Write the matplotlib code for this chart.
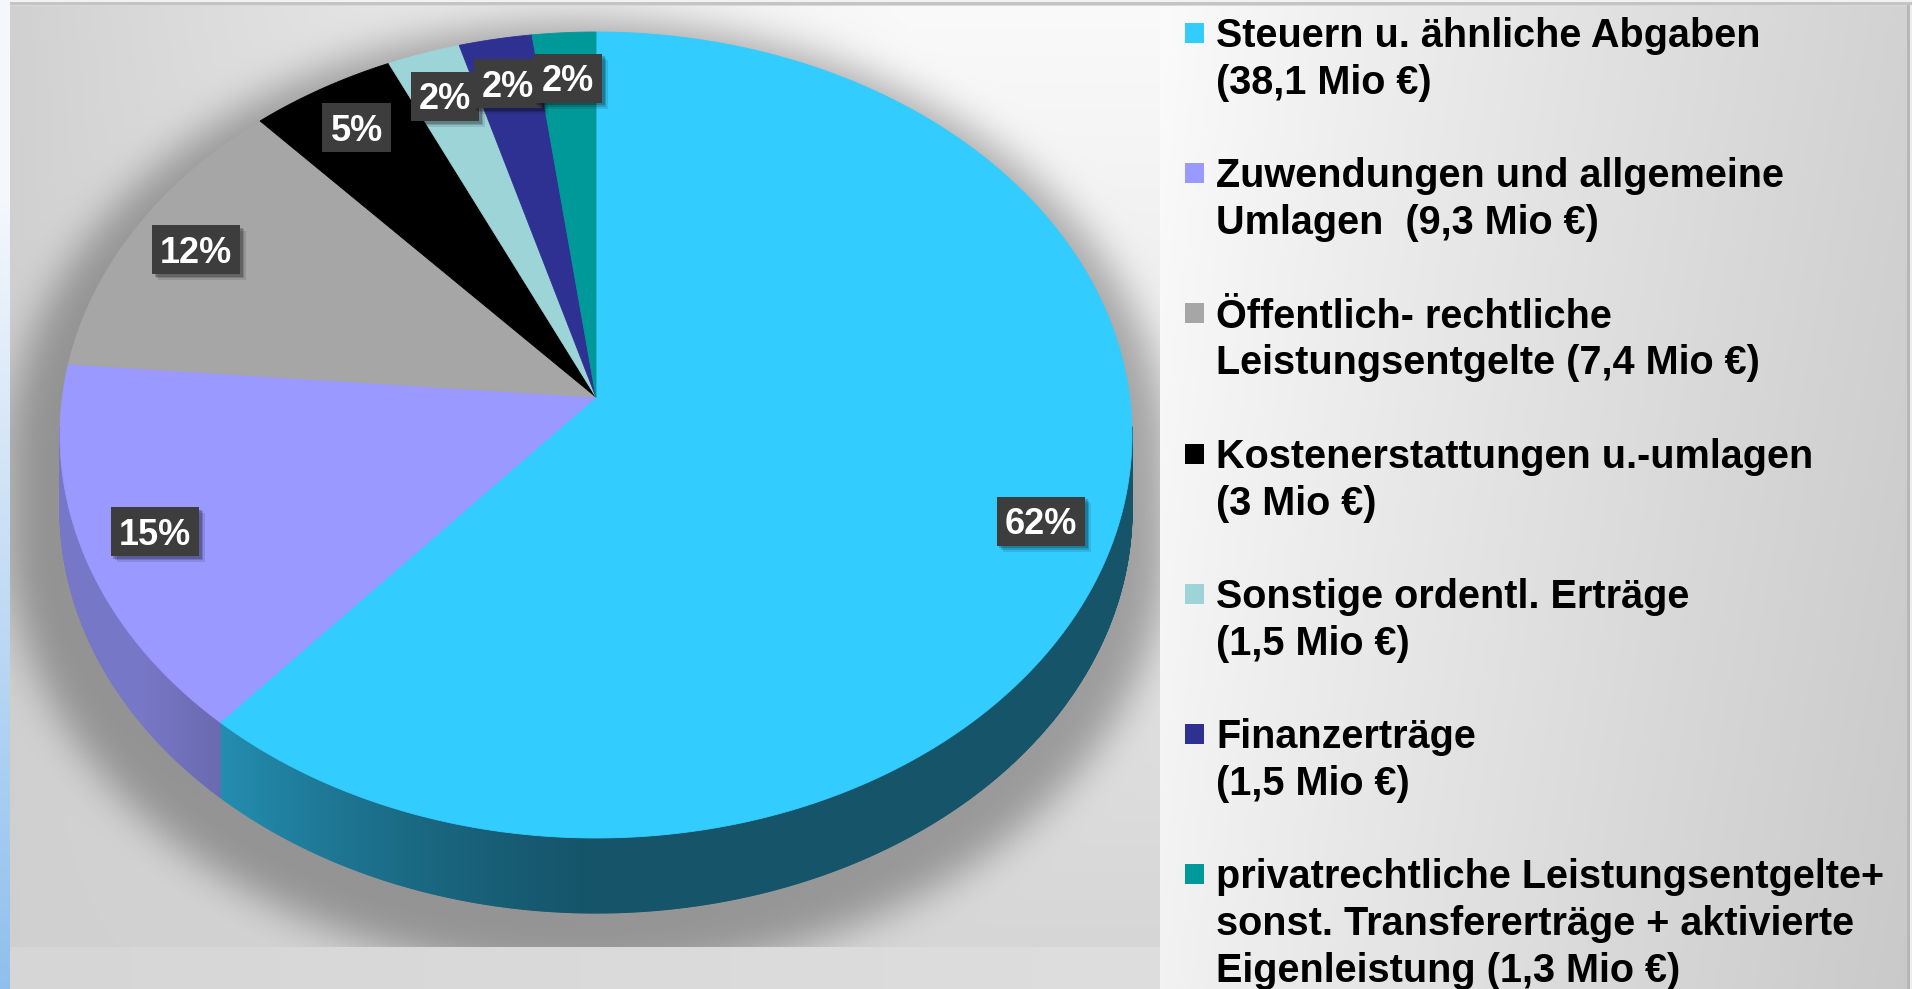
import numpy as np
import matplotlib
matplotlib.use("Agg")
import matplotlib.pyplot as plt
from matplotlib.patches import Polygon, Rectangle
from matplotlib.collections import PolyCollection

# ---------------- data ----------------
categories = [
    "Steuern u. ähnliche Abgaben\n(38,1 Mio €)",
    "Zuwendungen und allgemeine\nUmlagen  (9,3 Mio €)",
    "Öffentlich- rechtliche\nLeistungsentgelte (7,4 Mio €)",
    "Kostenerstattungen u.-umlagen\n(3 Mio €)",
    "Sonstige ordentl. Erträge\n(1,5 Mio €)",
    "Finanzerträge\n(1,5 Mio €)",
    "privatrechtliche Leistungsentgelte+\nsonst. Transfererträge + aktivierte\nEigenleistung (1,3 Mio €)",
]
values = [38.1, 9.3, 7.4, 3.0, 1.5, 1.5, 1.3]
pct_labels = ["62%", "15%", "12%", "5%", "2%", "2%", "2%"]
colors = ["#33CCFF", "#9999FF", "#A6A6A6", "#000000", "#9DD4D8", "#2E3192", "#009999"]

FONT = ["Liberation Sans", "DejaVu Sans"]

W, H = 1912, 989
fig = plt.figure(figsize=(W / 100, H / 100), dpi=100)
ax = fig.add_axes([0, 0, 1, 1])
ax.set_xlim(0, W)
ax.set_ylim(H, 0)
ax.axis("off")

# ---------------- geometry of the 3D pie ----------------
CX, CY, RX, RY, T, DEPTH = 596.0, 435.0, 536.0, 403.0, 0.094, 75.0


def proj(theta_deg, r=1.0):
    th = np.radians(theta_deg)
    x = r * np.cos(th)
    y = r * np.sin(th)
    den = 1 + T * y
    xp = x * np.sqrt(1 - T * T) / den
    yp = (y + T) / den
    return CX + RX * xp, CY - RY * yp


# ---------------- background ----------------
yy, xx = np.mgrid[0:H, 0:W].astype(float)
PX0, PX1, PY0, PY1 = 10, 1160, 6, 947

sx = np.clip((xx - PX0) / 900.0, 0, 1) ** 0.8
sy = np.clip((yy - PY0) / (PY1 - PY0), 0, 1)
plot_v = 0.815 + 0.165 * sx * (1 - 0.85 * sy)

# shadow of pie silhouette
S, OX, OY = 1.08, -8.0, 28.0
xs = CX + (xx - CX - OX) / S
ys = CY + DEPTH + (yy - CY - DEPTH - OY) / S
e_top = ((xs - CX) / RX) ** 2 + ((ys - CY) / RY) ** 2 <= 1
e_bot = ((xs - CX) / RX) ** 2 + ((ys - CY - DEPTH) / RY) ** 2 <= 1
band = (np.abs(xs - CX) <= RX) & (ys >= CY) & (ys <= CY + DEPTH)
mask = (e_top | e_bot | band).astype(float)


def box(a, r, axis):
    a = np.moveaxis(a, axis, 0)
    p = np.pad(a, ((r + 1, r), (0, 0)), mode="edge")
    c = np.cumsum(p, axis=0)
    out = (c[2 * r + 1:] - c[:-2 * r - 1]) / (2 * r + 1)
    return np.moveaxis(out, 0, axis)


sh = mask
for _ in range(3):
    sh = box(sh, 18, 0)
    sh = box(sh, 18, 1)
plot_v = plot_v * (1 - 0.30 * sh)

bg = np.full((H, W), 0.85)
in_plot = (xx >= PX0) & (xx < PX1) & (yy >= PY0) & (yy < PY1)
bg[in_plot] = plot_v[in_plot]
below = (xx >= PX0) & (xx < PX1) & (yy >= PY1)
bg[below] = (0.84 + 0.03 * np.clip((xx - PX0) / 1150, 0, 1))[below]
leg = (xx >= PX1) & (yy >= PY0)
leg_v = 0.985 - 0.16 * np.clip((xx - PX1) / 745.0, 0, 1) ** 0.9 - 0.035 * (yy / H)
bg[leg] = leg_v[leg]
bg[(xx >= 1907) & (xx < 1910)] = 0.72
bg[xx >= 1910] = 0.93
bg[yy < 2] = 0.95
bg[(yy >= 2) & (yy < 5)] = 0.77

rgb = np.stack([bg, bg, bg], axis=-1)
left = xx < PX0
tt = np.clip((yy - 200) / 789.0, 0, 1)[..., None]
lc = (1 - tt) * np.array([0.96, 0.97, 0.99]) + tt * np.array([0.56, 0.75, 0.93])
rgb[left] = lc[left]
rgb = np.clip(rgb, 0, 1)
ax.imshow(rgb, extent=(0, W, H, 0), interpolation="nearest", zorder=0)

# ---------------- pie ----------------
total = float(sum(values))
cum = np.concatenate([[0.0], np.cumsum(values)]) / total
angles = 90.0 - 360.0 * cum  # clockwise from 12 o'clock


def shade(c, X):
    f = 0.41 + 0.37 * np.clip((620.0 - X) / 480.0, 0, 1) ** 1.5
    rgb_c = np.array(matplotlib.colors.to_rgb(c))
    return tuple(np.clip(rgb_c * f, 0, 1))


# sides
quads, qcols = [], []
for k in range(len(values)):
    a0, a1 = angles[k], angles[k + 1]
    n = max(4, int(abs(a0 - a1) / 0.2))
    th = np.linspace(a0, a1, n + 1)
    X, Y = proj(th)
    for i in range(n):
        mid = 0.5 * (th[i] + th[i + 1])
        if np.sin(np.radians(mid)) < -T + 0.02:
            q = [(X[i], Y[i]), (X[i + 1], Y[i + 1]),
                 (X[i + 1], Y[i + 1] + DEPTH), (X[i], Y[i] + DEPTH)]
            quads.append(q)
            qcols.append(shade(colors[k], 0.5 * (X[i] + X[i + 1])))
pc = PolyCollection(quads, facecolors=qcols, edgecolors=qcols, linewidths=0.8, zorder=2)
ax.add_collection(pc)

# top faces
ax_x, ax_y = proj(0.0, 0.0)
for k in range(len(values)):
    a0, a1 = angles[k], angles[k + 1]
    n = max(4, int(abs(a0 - a1) / 0.3))
    th = np.linspace(a0, a1, n + 1)
    X, Y = proj(th)
    pts = np.column_stack([np.concatenate([[ax_x], X]), np.concatenate([[ax_y], Y])])
    ax.add_patch(Polygon(pts, closed=True, facecolor=colors[k], edgecolor=colors[k],
                         linewidth=0.6, zorder=3))

# ---------------- data labels ----------------
renderer = fig.canvas.get_renderer()
LFS = 26
cap = 0.716 * LFS * 100 / 72
for k in range(len(values)):
    mid = 0.5 * (angles[k] + angles[k + 1])
    lx, ly = proj(mid, 0.865)
    z = 10 + 3 * k
    t = ax.text(lx, ly + cap / 2, pct_labels[k], color="white", fontsize=LFS,
                fontweight="bold", family=FONT, ha="center", va="baseline", zorder=z + 2)
    bb = t.get_window_extent(renderer=renderer)
    bw = bb.width + 16
    bh = 49
    for j, (dx, al) in enumerate([(6, 0.10), (4, 0.15), (2.5, 0.2)]):
        ax.add_patch(Rectangle((lx - bw / 2 + dx, ly - bh / 2 + dx), bw, bh,
                               facecolor="black", alpha=al, edgecolor="none", zorder=z))
    ax.add_patch(Rectangle((lx - bw / 2, ly - bh / 2), bw, bh, facecolor="#3d3d3d",
                           edgecolor="none", zorder=z + 1))

# ---------------- legend ----------------
LEG_FS = 28.5
for i, lab in enumerate(categories):
    c = 33 + i * 140.2
    ax.add_patch(Rectangle((1185, c - 10), 19, 20, facecolor=colors[i], edgecolor="none", zorder=5))
    for j, line in enumerate(lab.split("\n")):
        ax.text(1216, c + 14.2 + j * 46.8, line, fontsize=LEG_FS, fontweight="bold",
                family=FONT, color="black", ha="left", va="baseline", zorder=6)

fig.savefig("out.png", dpi=100)
